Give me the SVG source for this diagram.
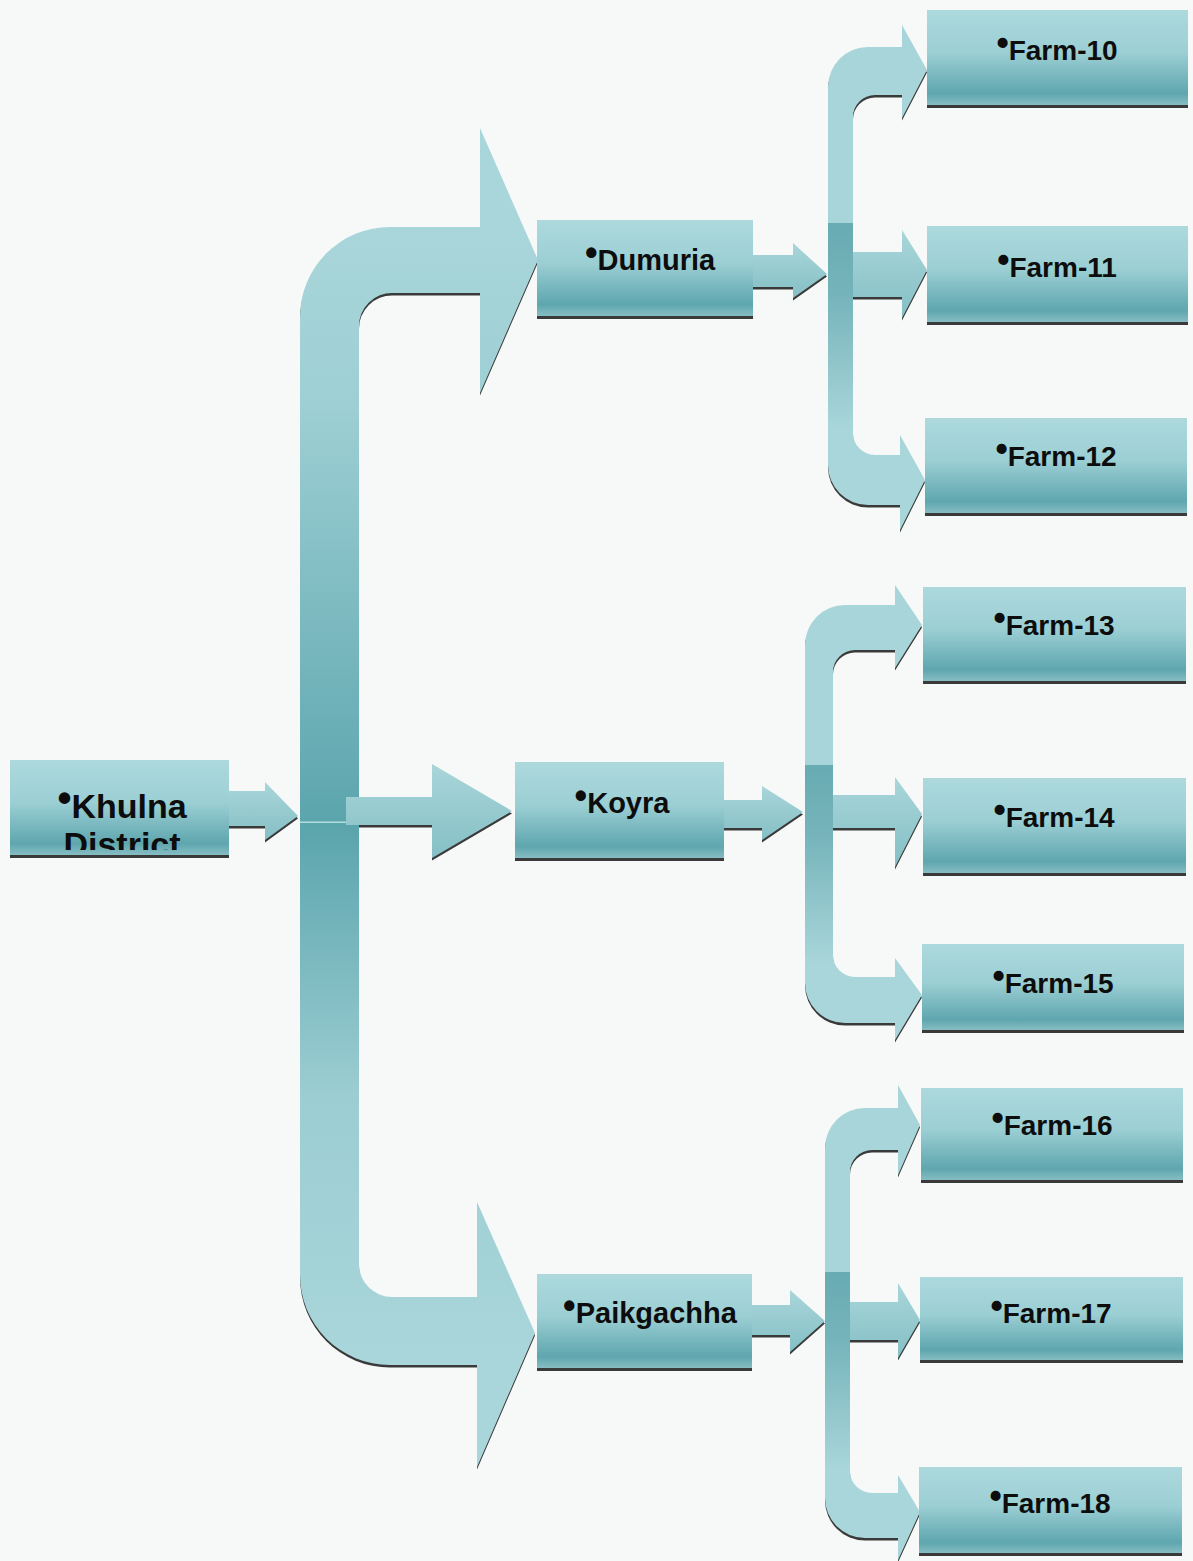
<svg xmlns="http://www.w3.org/2000/svg" xmlns:xlink="http://www.w3.org/1999/xlink" width="1193" height="1561" viewBox="0 0 1193 1561">
<style>
.lbl{font-family:"Liberation Sans",Arial,sans-serif;font-weight:bold;fill:#0d0d0d;text-anchor:middle}
.shadow{fill:#3a3a3a}
.box{fill:url(#boxGrad)}
.light{fill:#a8d5d9}
.mid{fill:url(#midGrad)}
</style>
<defs>
<linearGradient id="boxGrad" x1="0" y1="0" x2="0" y2="1">
<stop offset="0" stop-color="#add9dd"/>
<stop offset="0.45" stop-color="#9bcfd4"/>
<stop offset="0.88" stop-color="#5fa6ae"/>
<stop offset="1" stop-color="#86bdc3"/>
</linearGradient>
<linearGradient id="midGrad" x1="0" y1="0" x2="0" y2="1">
<stop offset="0" stop-color="#a9d6da"/>
<stop offset="1" stop-color="#84bfc5"/>
</linearGradient>
<linearGradient id="mainUp" gradientUnits="userSpaceOnUse" x1="0" y1="227" x2="0" y2="822">
<stop offset="0" stop-color="#a9d6da"/>
<stop offset="0.3" stop-color="#9dcfd4"/>
<stop offset="1" stop-color="#5ca5ad"/>
</linearGradient>
<linearGradient id="mainLow" gradientUnits="userSpaceOnUse" x1="0" y1="822" x2="0" y2="1365">
<stop offset="0" stop-color="#5aa4ac"/>
<stop offset="0.5" stop-color="#9bcdd2"/>
<stop offset="1" stop-color="#a9d6da"/>
</linearGradient>
<linearGradient id="gDL" gradientUnits="userSpaceOnUse" x1="0" y1="223" x2="0" y2="430">
<stop offset="0" stop-color="#68abb2"/>
<stop offset="0.35" stop-color="#76b4bb"/>
<stop offset="1" stop-color="#a9d6da"/>
</linearGradient>
<linearGradient id="gKL" gradientUnits="userSpaceOnUse" x1="0" y1="765" x2="0" y2="965">
<stop offset="0" stop-color="#68abb2"/>
<stop offset="0.35" stop-color="#76b4bb"/>
<stop offset="1" stop-color="#a9d6da"/>
</linearGradient>
<linearGradient id="gPL" gradientUnits="userSpaceOnUse" x1="0" y1="1272" x2="0" y2="1470">
<stop offset="0" stop-color="#68abb2"/>
<stop offset="0.35" stop-color="#76b4bb"/>
<stop offset="1" stop-color="#a9d6da"/>
</linearGradient>
<path id="mU" d="M300,822 L300,317 A90,90 0 0 1 390,227 L480,227 L480,128 L538,260 L480,393 L480,293 L393,293 A33,33 0 0 0 359,327 L359,822 Z"/>
<path id="mL" d="M300,822 L300,1275 A90,90 0 0 0 390,1365 L477,1365 L477,1467 L535,1333 L477,1202 L477,1297 L392,1297 A33,33 0 0 1 359,1264 L359,822 Z"/>
<path id="mK" d="M346,797 L432,797 L432,764 L512,811 L432,858 L432,825 L346,825 Z"/>
<path id="aK" d="M228,791 L265,791 L265,782 L298,816 L265,840 L265,826 L228,826 Z"/>
<path id="aD" d="M753,255 L793,255 L793,243 L827,274 L793,298 L793,287 L753,287 Z"/>
<path id="aKo" d="M724,800 L762,800 L762,786 L803,812 L762,840 L762,828 L724,828 Z"/>
<path id="aP" d="M752,1305 L790,1305 L790,1290 L825,1321 L790,1352 L790,1335 L752,1335 Z"/>
<path id="dU" d="M828,223 L828,87 A40,40 0 0 1 868,47 L902,47 L902,25 L927,70 L902,118 L902,95 L875,95 A22,22 0 0 0 853,117 L853,223 Z"/>
<path id="dM" d="M853,252 L902,252 L902,230 L927,270 L902,318 L902,297 L853,297 Z"/>
<path id="dL" d="M828,223 L828,465 A40,40 0 0 0 868,505 L900,505 L900,530 L925,480 L900,435 L900,455 L875,455 A22,22 0 0 1 853,433 L853,223 Z"/>
<path id="kU" d="M805,765 L805,645 A40,40 0 0 1 845,605 L895,605 L895,585 L922,625 L895,668 L895,650 L855,650 A22,22 0 0 0 833,672 L833,765 Z"/>
<path id="kM" d="M833,795 L895,795 L895,777 L922,814 L895,867 L895,828 L833,828 Z"/>
<path id="kL" d="M805,765 L805,983 A40,40 0 0 0 845,1023 L895,1023 L895,1040 L922,995 L895,958 L895,977 L855,977 A22,22 0 0 1 833,955 L833,765 Z"/>
<path id="pU" d="M825,1272 L825,1148 A40,40 0 0 1 865,1108 L898,1108 L898,1085 L920,1125 L898,1175 L898,1150 L872,1150 A22,22 0 0 0 850,1172 L850,1272 Z"/>
<path id="pM" d="M850,1302 L898,1302 L898,1283 L920,1320 L898,1358 L898,1340 L850,1340 Z"/>
<path id="pL" d="M825,1272 L825,1498 A40,40 0 0 0 865,1538 L898,1538 L898,1560 L920,1512 L898,1475 L898,1493 L872,1493 A22,22 0 0 1 850,1471 L850,1272 Z"/>
<clipPath id="clipKhulna"><rect x="10" y="760" width="219" height="90"/></clipPath>
</defs>
<rect x="0" y="0" width="1193" height="1561" fill="#f7f8f8"/>

<g id="connectors">
<g id="connector-shadows" class="shadow" transform="translate(0,2.5)">
<use xlink:href="#mU"/><use xlink:href="#mL"/><use xlink:href="#mK"/><use xlink:href="#aK"/>
<use xlink:href="#aD"/><use xlink:href="#aKo"/><use xlink:href="#aP"/>
<use xlink:href="#dU"/><use xlink:href="#dM"/><use xlink:href="#dL"/>
<use xlink:href="#kU"/><use xlink:href="#kM"/><use xlink:href="#kL"/>
<use xlink:href="#pU"/><use xlink:href="#pM"/><use xlink:href="#pL"/>
</g>
<use xlink:href="#mL" fill="url(#mainLow)"/>
<use xlink:href="#mU" fill="url(#mainUp)"/>
<rect x="300" y="821.5" width="59" height="1.5" fill="#b4dbde"/>
<use xlink:href="#mK" class="mid"/>
<use xlink:href="#aK" class="mid"/>
<use xlink:href="#aD" class="mid"/>
<use xlink:href="#aKo" class="mid"/>
<use xlink:href="#aP" class="mid"/>
<use xlink:href="#dU" class="light"/>
<use xlink:href="#dL" fill="url(#gDL)"/>
<use xlink:href="#dM" class="mid"/>
<use xlink:href="#kU" class="light"/>
<use xlink:href="#kL" fill="url(#gKL)"/>
<use xlink:href="#kM" class="mid"/>
<use xlink:href="#pU" class="light"/>
<use xlink:href="#pL" fill="url(#gPL)"/>
<use xlink:href="#pM" class="mid"/>
</g>

<g id="node-khulna">
<rect class="shadow" x="10" y="763" width="219" height="95"/>
<rect class="box" x="10" y="760" width="219" height="95"/>
<text class="lbl" clip-path="url(#clipKhulna)" font-size="34"><tspan x="122" y="818"><tspan font-size="40" dy="-6">•</tspan><tspan dy="6">Khulna</tspan></tspan><tspan x="122" y="856">District</tspan></text>
</g>

<g id="node-dumuria">
<rect class="shadow" x="537" y="223" width="216" height="96"/>
<rect class="box" x="537" y="220" width="216" height="96"/>
<text class="lbl" x="650" y="270" font-size="29"><tspan font-size="36" dy="-5">•</tspan><tspan dy="5">Dumuria</tspan></text>
</g>

<g id="node-koyra">
<rect class="shadow" x="515" y="765" width="209" height="96"/>
<rect class="box" x="515" y="762" width="209" height="96"/>
<text class="lbl" x="622" y="813" font-size="29"><tspan font-size="36" dy="-5">•</tspan><tspan dy="5">Koyra</tspan></text>
</g>

<g id="node-paikgachha">
<rect class="shadow" x="537" y="1277" width="215" height="94"/>
<rect class="box" x="537" y="1274" width="215" height="94"/>
<text class="lbl" x="650" y="1323" font-size="29"><tspan font-size="36" dy="-5">•</tspan><tspan dy="5">Paikgachha</tspan></text>
</g>

<g id="node-farm10">
<rect class="shadow" x="927" y="13" width="261" height="95"/>
<rect class="box" x="927" y="10" width="261" height="95"/>
<text class="lbl" x="1057" y="60" font-size="28"><tspan font-size="35" dy="-5">•</tspan><tspan dy="5">Farm-10</tspan></text>
</g>
<g id="node-farm11">
<rect class="shadow" x="927" y="229" width="261" height="96"/>
<rect class="box" x="927" y="226" width="261" height="96"/>
<text class="lbl" x="1057" y="277" font-size="28"><tspan font-size="35" dy="-5">•</tspan><tspan dy="5">Farm-11</tspan></text>
</g>
<g id="node-farm12">
<rect class="shadow" x="925" y="421" width="262" height="95"/>
<rect class="box" x="925" y="418" width="262" height="95"/>
<text class="lbl" x="1056" y="466" font-size="28"><tspan font-size="35" dy="-5">•</tspan><tspan dy="5">Farm-12</tspan></text>
</g>
<g id="node-farm13">
<rect class="shadow" x="923" y="590" width="263" height="94"/>
<rect class="box" x="923" y="587" width="263" height="94"/>
<text class="lbl" x="1054" y="635" font-size="28"><tspan font-size="35" dy="-5">•</tspan><tspan dy="5">Farm-13</tspan></text>
</g>
<g id="node-farm14">
<rect class="shadow" x="923" y="781" width="263" height="95"/>
<rect class="box" x="923" y="778" width="263" height="95"/>
<text class="lbl" x="1054" y="827" font-size="28"><tspan font-size="35" dy="-5">•</tspan><tspan dy="5">Farm-14</tspan></text>
</g>
<g id="node-farm15">
<rect class="shadow" x="922" y="947" width="262" height="86"/>
<rect class="box" x="922" y="944" width="262" height="86"/>
<text class="lbl" x="1053" y="993" font-size="28"><tspan font-size="35" dy="-5">•</tspan><tspan dy="5">Farm-15</tspan></text>
</g>
<g id="node-farm16">
<rect class="shadow" x="921" y="1091" width="262" height="92"/>
<rect class="box" x="921" y="1088" width="262" height="92"/>
<text class="lbl" x="1052" y="1135" font-size="28"><tspan font-size="35" dy="-5">•</tspan><tspan dy="5">Farm-16</tspan></text>
</g>
<g id="node-farm17">
<rect class="shadow" x="920" y="1280" width="263" height="83"/>
<rect class="box" x="920" y="1277" width="263" height="83"/>
<text class="lbl" x="1051" y="1323" font-size="28"><tspan font-size="35" dy="-5">•</tspan><tspan dy="5">Farm-17</tspan></text>
</g>
<g id="node-farm18">
<rect class="shadow" x="919" y="1470" width="263" height="86"/>
<rect class="box" x="919" y="1467" width="263" height="86"/>
<text class="lbl" x="1050" y="1513" font-size="28"><tspan font-size="35" dy="-5">•</tspan><tspan dy="5">Farm-18</tspan></text>
</g>
</svg>
